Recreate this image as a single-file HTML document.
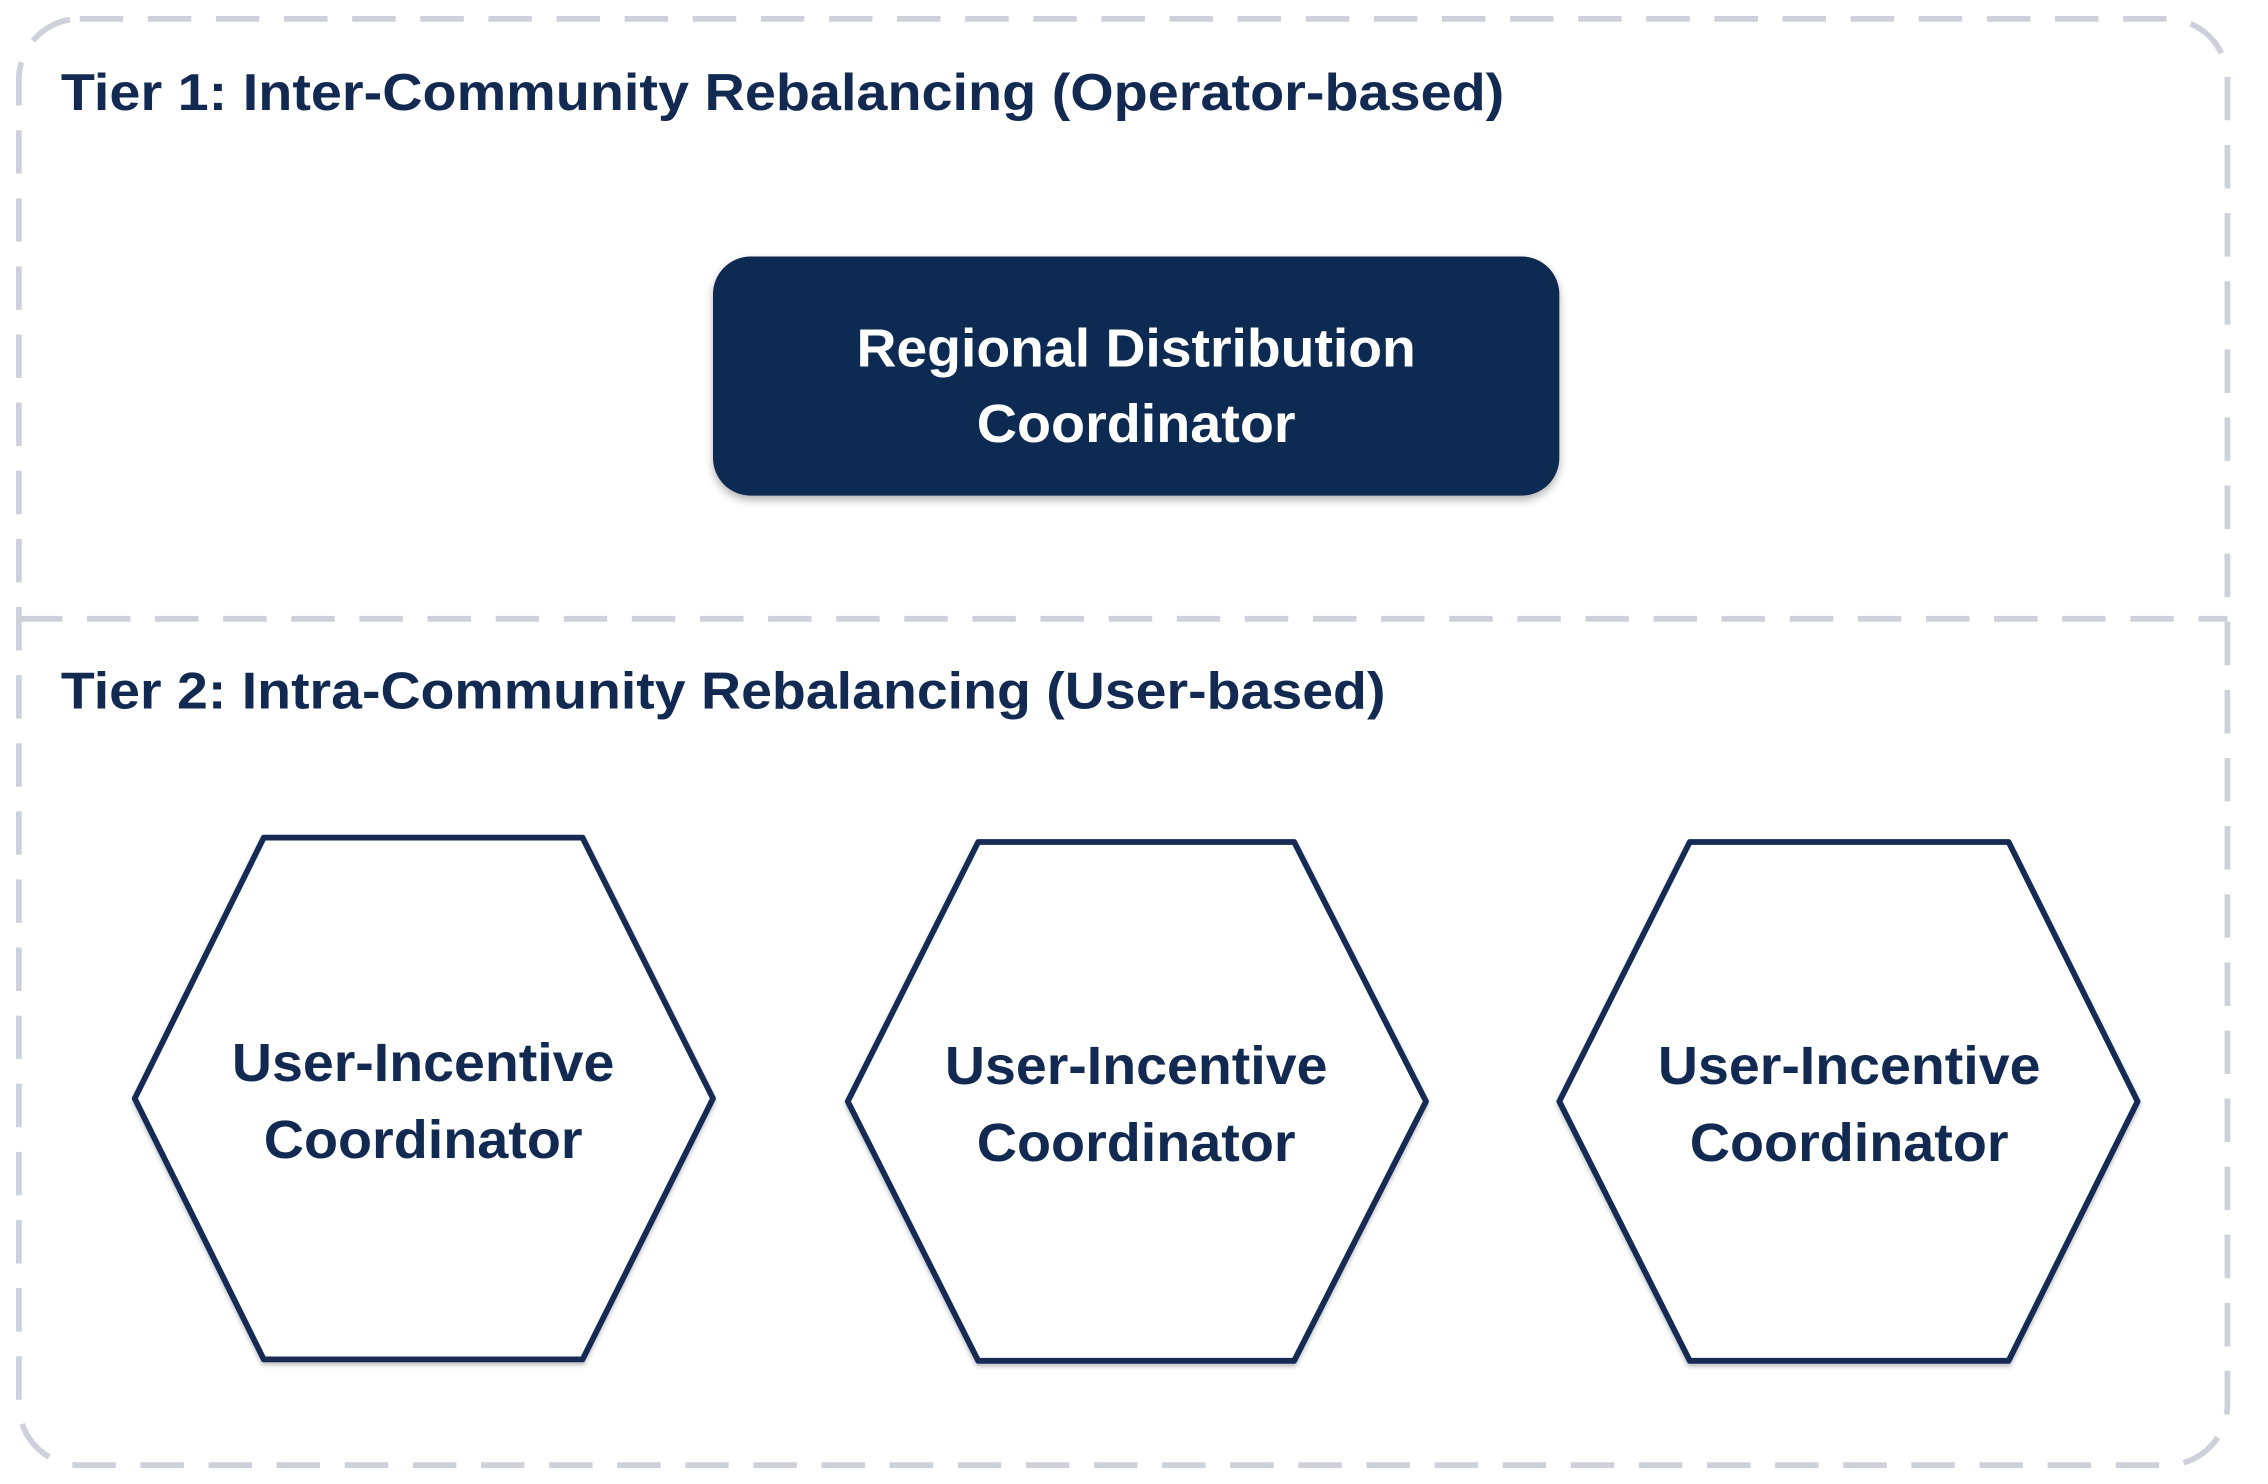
<!DOCTYPE html>
<html><head><meta charset="utf-8"><style>
html,body{margin:0;padding:0;background:#fff;}
svg{display:block;}
text{font-family:"Liberation Sans",sans-serif;font-weight:bold;}
</style></head><body>
<svg width="2268" height="1484" viewBox="0 0 1565 1024" preserveAspectRatio="none" xmlns="http://www.w3.org/2000/svg">
<defs>
<filter id="sh" x="-10%" y="-10%" width="120%" height="130%">
<feDropShadow dx="0" dy="3" stdDeviation="3" flood-color="#000" flood-opacity="0.3"/>
</filter>
<filter id="sh2" x="-10%" y="-10%" width="120%" height="120%">
<feDropShadow dx="0" dy="2" stdDeviation="1.5" flood-color="#000" flood-opacity="0.25"/>
</filter>
</defs>
<rect x="13" y="13" width="1524" height="998" rx="42" ry="42" fill="none" stroke="#cfd1da" stroke-width="4" stroke-dasharray="30 17"/>
<line x1="13" y1="427" x2="1537" y2="427" stroke="#cfd1da" stroke-width="4" stroke-dasharray="30 17"/>
<text x="42" y="76" font-size="36" fill="#122a52" textLength="996" lengthAdjust="spacingAndGlyphs">Tier 1: Inter-Community Rebalancing (Operator-based)</text>
<text x="42" y="489" font-size="36" fill="#122a52" textLength="914" lengthAdjust="spacingAndGlyphs">Tier 2: Intra-Community Rebalancing (User-based)</text>
<rect x="492" y="177" width="584" height="165" rx="26" ry="26" fill="#112a52" filter="url(#sh)"/>
<text x="784" y="253" font-size="37" fill="#fff" text-anchor="middle" textLength="386" lengthAdjust="spacingAndGlyphs">Regional Distribution</text>
<text x="784" y="305" font-size="37" fill="#fff" text-anchor="middle" textLength="220" lengthAdjust="spacingAndGlyphs">Coordinator</text>
<g fill="#fff" stroke="#122a52" stroke-width="4" stroke-linejoin="round" filter="url(#sh2)">
<polygon points="182,578 402,578 492,758 402,938 182,938 93,758"/>
<polygon points="675,581 893,581 984,760 893,939 675,939 585,760"/>
<polygon points="1166,581 1386,581 1475,760 1386,939 1166,939 1076,760"/>
</g>
<g font-size="37" fill="#122a52" text-anchor="middle">
<text x="292" y="746" textLength="264" lengthAdjust="spacingAndGlyphs">User-Incentive</text>
<text x="292" y="799" textLength="220" lengthAdjust="spacingAndGlyphs">Coordinator</text>
<text x="784" y="748" textLength="264" lengthAdjust="spacingAndGlyphs">User-Incentive</text>
<text x="784" y="801" textLength="220" lengthAdjust="spacingAndGlyphs">Coordinator</text>
<text x="1276" y="748" textLength="264" lengthAdjust="spacingAndGlyphs">User-Incentive</text>
<text x="1276" y="801" textLength="220" lengthAdjust="spacingAndGlyphs">Coordinator</text>
</g>
</svg>
</body></html>
